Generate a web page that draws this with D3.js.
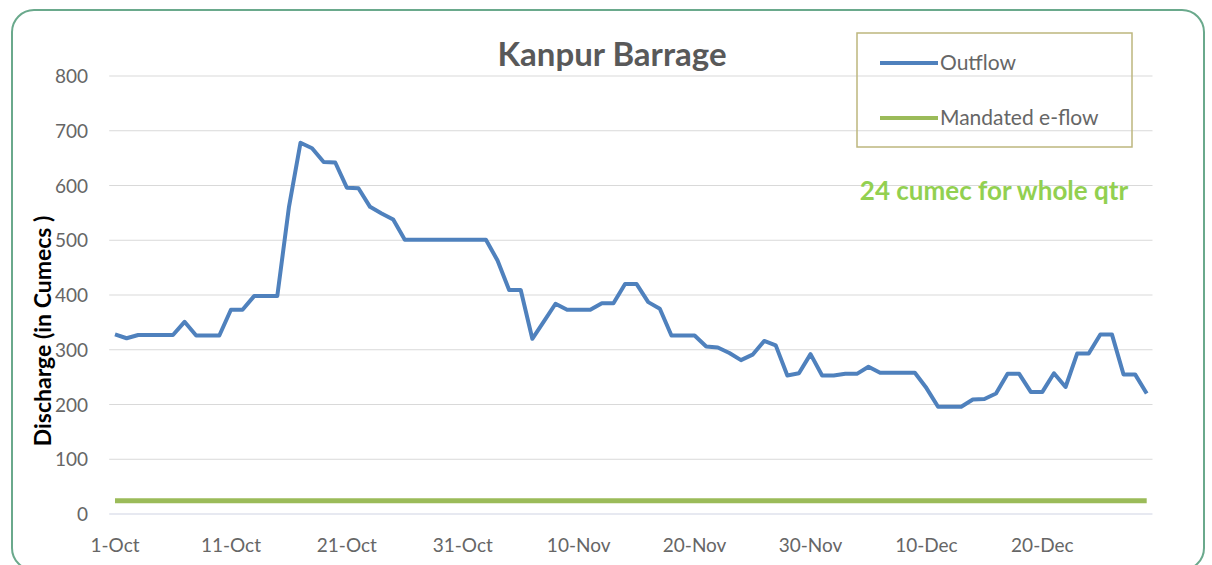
<!DOCTYPE html>
<html>
<head>
<meta charset="utf-8">
<script src="https://cdnjs.cloudflare.com/ajax/libs/d3/7.8.5/d3.min.js"></script>
<style>
body { margin: 0; background: #fff; }
text { font-family: Lato, "Open Sans", sans-serif; }
</style>
</head>
<body>
<div id="graph"></div>
<script>
// daily outflow from 1-Oct (cumec)
var outflow = [328, 321, 327, 327, 327, 327, 351, 326, 326, 326,
  373, 373, 398, 398, 398, 560, 678, 668, 643, 642,
  596, 595, 561, 549, 538, 501, 501, 501, 501, 501,
  501, 501, 501, 463, 409, 409, 320, 352, 384, 373,
  373, 373, 385, 385, 420, 420, 387, 375, 326, 326,
  326, 306, 304, 294, 281, 291, 316, 308, 253, 257,
  292, 253, 253, 256, 256, 269, 258, 258, 258, 258,
  230, 196, 196, 196, 209, 210, 220, 256, 256, 223,
  223, 257, 232, 293, 293, 328, 328, 255, 255, 220];
var eflow = 24;
var tickDays = [0, 10, 20, 30, 40, 50, 60, 70, 80];
var tickLabels = ['1-Oct', '11-Oct', '21-Oct', '31-Oct', '10-Nov', '20-Nov', '30-Nov', '10-Dec', '20-Dec'];
var yTicks = [0, 100, 200, 300, 400, 500, 600, 700, 800];

var svgWidth = 1212, svgHeight = 565;
var svg = d3.select('#graph').append('svg').attr('width', svgWidth).attr('height', svgHeight);

// chart border
svg.append('rect')
  .attr('x', 12).attr('y', 10).attr('width', 1192).attr('height', 560)
  .attr('rx', 22)
  .attr('fill', '#fff')
  .attr('stroke', '#6aa98c')
  .attr('stroke-width', 2);

var x = d3.scaleLinear().domain([0, outflow.length - 1]).range([115, 1146.7]);
var y = d3.scaleLinear().domain([0, 800]).range([514, 76]);

// gridlines
svg.append('g').selectAll('line').data(yTicks).enter().append('line')
  .attr('x1', x(-0.5)).attr('x2', x(outflow.length - 0.5))
  .attr('y1', function(d) { return y(d); })
  .attr('y2', function(d) { return y(d); })
  .attr('stroke', function(d) { return d === 0 ? '#d0d4e4' : '#d9d9d9'; })
  .attr('stroke-width', 1.2);

// y labels
svg.append('g').selectAll('text').data(yTicks).enter().append('text')
  .attr('x', 88)
  .attr('y', function(d) { return y(d) + 7; })
  .attr('text-anchor', 'end')
  .attr('font-size', 19)
  .attr('fill', '#666')
  .text(function(d) { return d; });

// x labels
svg.append('g').selectAll('text').data(tickDays).enter().append('text')
  .attr('x', function(d) { return x(d); })
  .attr('y', 552)
  .attr('text-anchor', 'middle')
  .attr('font-size', 19)
  .attr('fill', '#666')
  .text(function(d, i) { return tickLabels[i]; });

// axis title
svg.append('text')
  .attr('transform', 'translate(51,331) rotate(-90)')
  .attr('text-anchor', 'middle')
  .attr('font-size', 23)
  .attr('font-weight', 'bold')
  .attr('fill', '#000')
  .text('Discharge (in Cumecs )');

// chart title
svg.append('text')
  .attr('x', 612).attr('y', 66)
  .attr('text-anchor', 'middle')
  .attr('font-size', 33)
  .attr('font-weight', 'bold')
  .attr('fill', '#595959')
  .text('Kanpur Barrage');

// e-flow line
svg.append('line')
  .attr('x1', x(0)).attr('x2', x(outflow.length - 1))
  .attr('y1', y(eflow)).attr('y2', y(eflow))
  .attr('stroke', '#9bbb59')
  .attr('stroke-width', 5);

var line = d3.line()
  .x(function(d, i) { return x(i); })
  .y(function(d) { return y(d); });

svg.append('path')
  .datum(outflow)
  .attr('fill', 'none')
  .attr('stroke', '#4f81bd')
  .attr('stroke-width', 4)
  .attr('stroke-linejoin', 'round')
  .attr('d', line);

// legend
var legend = svg.append('g');
legend.append('rect')
  .attr('x', 857).attr('y', 33).attr('width', 275).attr('height', 114)
  .attr('fill', 'none')
  .attr('stroke', '#bdb67e')
  .attr('stroke-width', 1.5);
var items = [{name: 'Outflow', color: '#4f81bd', y: 63}, {name: 'Mandated e-flow', color: '#9bbb59', y: 118}];
legend.selectAll('line').data(items).enter().append('line')
  .attr('x1', 880).attr('x2', 938)
  .attr('y1', function(d) { return d.y; }).attr('y2', function(d) { return d.y; })
  .attr('stroke', function(d) { return d.color; })
  .attr('stroke-width', 4);
legend.selectAll('text').data(items).enter().append('text')
  .attr('x', 940)
  .attr('y', function(d) { return d.y + 7; })
  .attr('font-size', 21)
  .attr('fill', '#666')
  .text(function(d) { return d.name; });

// note
svg.append('text')
  .attr('x', 994).attr('y', 200)
  .attr('text-anchor', 'middle')
  .attr('font-size', 26)
  .attr('font-weight', 'bold')
  .attr('fill', '#92d050')
  .text('24 cumec for whole qtr');
</script>
</body>
</html>
